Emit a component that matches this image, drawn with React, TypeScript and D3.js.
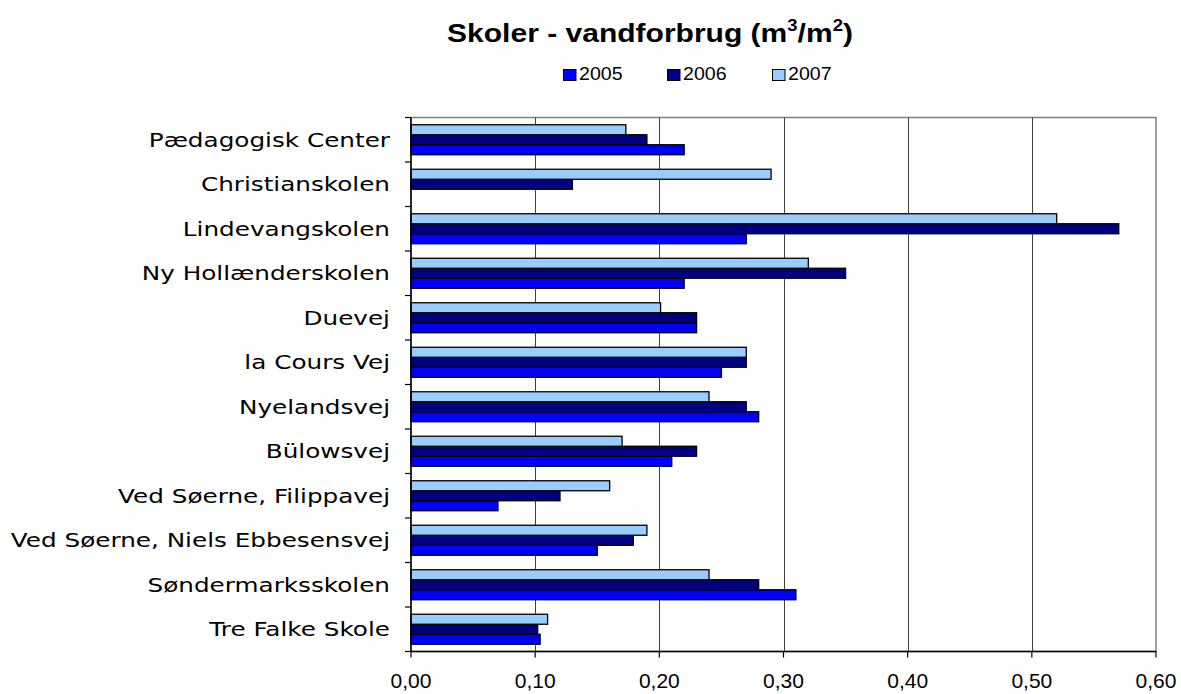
import React, { useEffect, useRef } from 'react';
import * as d3 from 'd3';

const schools = [
  'Pædagogisk Center',
  'Christianskolen',
  'Lindevangskolen',
  'Ny Hollænderskolen',
  'Duevej',
  'la Cours Vej',
  'Nyelandsvej',
  'Bülowsvej',
  'Ved Søerne, Filippavej',
  'Ved Søerne, Niels Ebbesensvej',
  'Søndermarksskolen',
  'Tre Falke Skole',
];

const years = ['2005', '2006', '2007'];
const v2005 = [0.22, 0, 0.27, 0.22, 0.23, 0.25, 0.28, 0.21, 0.07, 0.15, 0.31, 0.104];
const v2006 = [0.19, 0.13, 0.57, 0.35, 0.23, 0.27, 0.27, 0.23, 0.12, 0.179, 0.28, 0.102];
const v2007 = [0.173, 0.29, 0.52, 0.32, 0.201, 0.27, 0.24, 0.17, 0.16, 0.19, 0.24, 0.11];
const xTicks = [0, 0.1, 0.2, 0.3, 0.4, 0.5, 0.6];
const colors = ['#0000ff', '#000080', '#99ccff'];

// stretch a text element horizontally around a fixed x
function stretchX(node: SVGTextElement, k: number, ax: number) {
  d3.select(node).attr('transform', `translate(${ax},0) scale(${k},1) translate(${-ax},0)`);
}

const App: React.FC = () => {
  const svgRef = useRef<SVGSVGElement>(null);

  useEffect(() => {
    if (!svgRef.current) return;
    const svg = d3.select(svgRef.current);
    svg.selectAll('*').remove();

    const left = 411, right = 1156, top = 117.5, bottom = 651.5;
    const values = [v2005, v2006, v2007];

    const x = d3.scaleLinear().domain([0, 0.6]).range([left, right]);
    const y = d3.scaleBand<string>().domain(schools).range([top, bottom])
      .paddingInner(0.326).paddingOuter(0.163);
    // 2007 on top, 2005 at bottom inside each group
    const yi = d3.scaleBand<string>().domain(['2007', '2006', '2005']).range([0, y.bandwidth()]);
    const step = (bottom - top) / schools.length;

    // frame
    svg.append('rect')
      .attr('x', left).attr('y', top)
      .attr('width', right - left).attr('height', bottom - top)
      .attr('fill', 'none').attr('stroke', '#808080').attr('stroke-width', 1.5);

    // grid
    svg.append('g').selectAll('line').data(xTicks.slice(1, -1)).join('line')
      .attr('x1', d => Math.round(x(d)) + 0.5).attr('x2', d => Math.round(x(d)) + 0.5)
      .attr('y1', top).attr('y2', bottom)
      .attr('stroke', '#404040').attr('stroke-width', 1);

    // bars
    years.forEach((yr, s) => {
      const rows = schools.map((name, i) => ({ name, v: values[s][i] })).filter(r => r.v > 0);
      svg.append('g').selectAll('rect').data(rows).join('rect')
        .attr('x', x(0))
        .attr('y', r => (y(r.name) as number) + (yi(yr) as number))
        .attr('width', r => x(r.v) - x(0))
        .attr('height', yi.bandwidth())
        .attr('fill', colors[s])
        .attr('stroke', '#000').attr('stroke-width', 1.3);
    });

    // y axis
    const ya = svg.append('g');
    ya.append('line').attr('x1', left).attr('x2', left).attr('y1', top).attr('y2', bottom)
      .attr('stroke', '#000').attr('stroke-width', 1.5);
    ya.selectAll('line.tk').data(d3.range(schools.length + 1)).join('line').attr('class', 'tk')
      .attr('x1', left - 6).attr('x2', left)
      .attr('y1', i => top + i * step).attr('y2', i => top + i * step)
      .attr('stroke', '#000').attr('stroke-width', 1.2);
    ya.selectAll('text').data(schools).join('text')
      .attr('x', left - 21)
      .attr('y', (d, i) => top + (i + 0.5) * step)
      .attr('dy', '0.36em')
      .attr('text-anchor', 'end')
      .style('font-family', 'DejaVu Sans, Verdana, sans-serif')
      .style('font-size', '19px')
      .text(d => d)
      .each(function () { stretchX(this as SVGTextElement, 1.3, left - 21); });

    // x axis
    const xa = svg.append('g');
    xa.append('line').attr('x1', left).attr('x2', right).attr('y1', bottom).attr('y2', bottom)
      .attr('stroke', '#000').attr('stroke-width', 1.5);
    xa.selectAll('line.tk').data(xTicks).join('line').attr('class', 'tk')
      .attr('x1', d => x(d)).attr('x2', d => x(d))
      .attr('y1', bottom).attr('y2', bottom + 6)
      .attr('stroke', '#000').attr('stroke-width', 1.2);
    xa.selectAll('text').data(xTicks).join('text')
      .attr('x', d => x(d)).attr('y', 688)
      .attr('text-anchor', 'middle')
      .style('font-family', 'Liberation Sans, Arial, sans-serif')
      .style('font-size', '21px')
      .text(d => d3.format('.2f')(d).replace('.', ','));

    // title
    const title = svg.append('text')
      .attr('x', 650).attr('y', 42)
      .attr('text-anchor', 'middle')
      .style('font-family', 'Liberation Sans, Arial, sans-serif')
      .style('font-size', '26px').style('font-weight', 'bold');
    title.append('tspan').text('Skoler - vandforbrug (m');
    title.append('tspan').attr('dy', -11).style('font-size', '16px').text('3');
    title.append('tspan').attr('dy', 11).text('/m');
    title.append('tspan').attr('dy', -11).style('font-size', '16px').text('2');
    title.append('tspan').attr('dy', 11).text(')');
    const tw = (title.node() as SVGTextElement).getBBox().width || 350;
    stretchX(title.node() as SVGTextElement, 406 / tw, 650);

    // legend
    const legendX = [563, 667, 772];
    const lg = svg.append('g');
    years.forEach((yr, s) => {
      lg.append('rect').attr('x', legendX[s] + 0.5).attr('y', 69.5).attr('width', 12.5).attr('height', 11)
        .attr('fill', colors[s]).attr('stroke', '#000').attr('stroke-width', 1);
      lg.append('text').attr('x', legendX[s] + 16).attr('y', 80.5)
        .style('font-family', 'Liberation Sans, Arial, sans-serif')
        .style('font-size', '17.5px')
        .text(yr)
        .each(function () { stretchX(this as SVGTextElement, 1.12, legendX[s] + 16); });
    });
  }, []);

  return (
    <div style={{ position: 'fixed', left: 0, top: 0, width: 1181, height: 694, overflow: 'hidden' }}>
      <svg ref={svgRef} width={1181} height={694} style={{ display: 'block', background: '#fff' }} />
    </div>
  );
};

export default App;
